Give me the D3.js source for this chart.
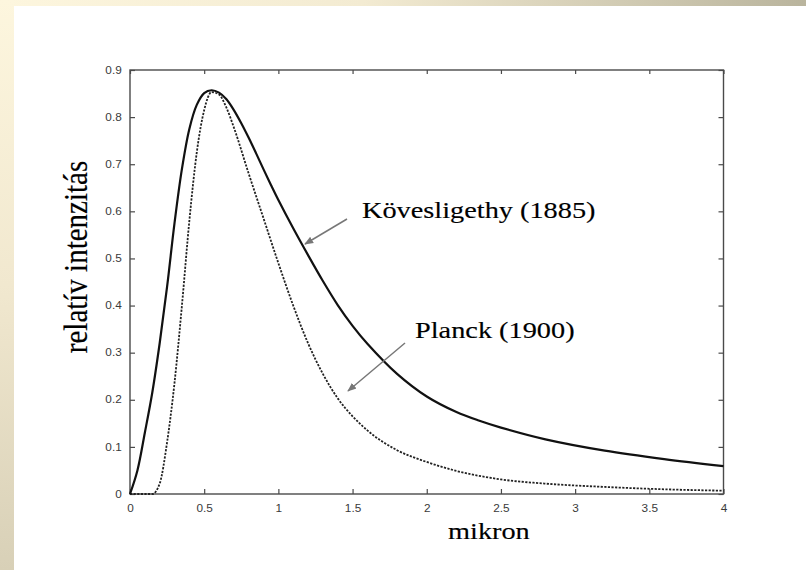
<!DOCTYPE html>
<html>
<head>
<meta charset="utf-8">
<script src="https://cdn.jsdelivr.net/npm/d3@7"></script>
<style>
  html, body { margin: 0; padding: 0; background: #fff; }
  svg { display: block; }
</style>
</head>
<body>
<svg id="chart" width="806" height="570"></svg>
<script>
// values (x in micron, y relative intensity)
const kovesX = [0, 0.05, 0.1, 0.15, 0.2, 0.25, 0.3, 0.35, 0.4, 0.45, 0.5, 0.55, 0.6, 0.65, 0.7, 0.75, 0.8, 0.85, 0.9, 0.95, 1.0, 1.1, 1.2, 1.3, 1.4, 1.5, 1.6, 1.8, 2.0, 2.2, 2.35, 2.5, 2.8, 3.2, 3.6, 4.0];
const kovesY = [0, 0.05, 0.13, 0.215, 0.32, 0.44, 0.575, 0.69, 0.775, 0.826, 0.851, 0.857, 0.852, 0.838, 0.815, 0.787, 0.756, 0.723, 0.689, 0.656, 0.624, 0.564, 0.507, 0.452, 0.401, 0.357, 0.319, 0.255, 0.207, 0.174, 0.156, 0.141, 0.116, 0.092, 0.074, 0.059];

const planckX = [0, 0.15, 0.2, 0.25, 0.3, 0.35, 0.4, 0.45, 0.5, 0.55, 0.6, 0.65, 0.7, 0.8, 0.9, 1.0, 1.1, 1.2, 1.3, 1.4, 1.5, 1.6, 1.8, 2.0, 2.2, 2.5, 2.8, 3.2, 3.6, 4.0];
const planckY = [0, 0, 0.022, 0.11, 0.236, 0.40, 0.58, 0.725, 0.815, 0.853, 0.848, 0.82, 0.778, 0.68, 0.585, 0.49, 0.400, 0.320, 0.255, 0.203, 0.165, 0.135, 0.093, 0.068, 0.049, 0.031, 0.022, 0.015, 0.010, 0.007];

const xTicks = [0, 0.5, 1, 1.5, 2, 2.5, 3, 3.5, 4];
const xTickLabels = ['0', '0.5', '1', '1.5', '2', '2.5', '3', '3.5', '4'];
const yTicks = [0, 0.1, 0.2, 0.3, 0.4, 0.5, 0.6, 0.7, 0.8, 0.9];
const yTickLabels = ['0', '0.1', '0.2', '0.3', '0.4', '0.5', '0.6', '0.7', '0.8', '0.9'];

const xLabel = 'mikron';
const yLabel = 'relatív intenzitás';
const kovesLabel = 'Kövesligethy (1885)';
const planckLabel = 'Planck (1900)';

const svg = d3.select('#chart');
const W = 806, H = 570;
const stretch = 1.18; // the picture looks stretched horizontally

// background: cream bands at top and left
const defs = svg.append('defs');
const gTop = defs.append('linearGradient').attr('id', 'gtop').attr('x1', 0).attr('x2', 1).attr('y1', 0).attr('y2', 0);
gTop.append('stop').attr('offset', '0%').attr('stop-color', '#fdf6de');
gTop.append('stop').attr('offset', '45%').attr('stop-color', '#f3ebd2');
gTop.append('stop').attr('offset', '100%').attr('stop-color', '#b9b49d');
const gLeft = defs.append('linearGradient').attr('id', 'gleft').attr('x1', 0).attr('x2', 0).attr('y1', 0).attr('y2', 1);
gLeft.append('stop').attr('offset', '0%').attr('stop-color', '#fdf6de');
gLeft.append('stop').attr('offset', '50%').attr('stop-color', '#f1e8cf');
gLeft.append('stop').attr('offset', '100%').attr('stop-color', '#d8d0b7');
defs.append('marker')
  .attr('id', 'arrow')
  .attr('viewBox', '0 0 10 10')
  .attr('refX', 9).attr('refY', 5)
  .attr('markerWidth', 6).attr('markerHeight', 6)
  .attr('markerUnits', 'strokeWidth')
  .attr('orient', 'auto')
  .append('path').attr('d', 'M0,1 L10,5 L0,9 z').attr('fill', '#777');

svg.append('rect').attr('x', 0).attr('y', 0).attr('width', W).attr('height', H).attr('fill', '#fff');
svg.append('rect').attr('x', 0).attr('y', 0).attr('width', W).attr('height', 6).attr('fill', 'url(#gtop)');
svg.append('rect').attr('x', 0).attr('y', 0).attr('width', 14).attr('height', H).attr('fill', 'url(#gleft)');

const pLeft = 130, pRight = 723.5, pTop = 70, pBottom = 494;
const x = d3.scaleLinear().domain([0, 4]).range([pLeft, pRight]);
const y = d3.scaleLinear().domain([0, 0.9]).range([pBottom, pTop]);

const axisColor = '#4a4a4a';
function styleAxis(g) {
  g.select('.domain').remove();
  g.selectAll('line').attr('stroke', axisColor).attr('stroke-width', 1.2);
  g.selectAll('text')
    .attr('fill', '#3a3a3a')
    .style('font-family', '"Liberation Sans", Arial, sans-serif')
    .style('font-size', '10px');
}

svg.append('g')
  .attr('transform', `translate(0,${pBottom})`)
  .call(d3.axisBottom(x).tickValues(xTicks).tickFormat((d, i) => xTickLabels[i]).tickSize(-5).tickPadding(11))
  .call(styleAxis)
  .selectAll('text').attr('transform', `scale(${stretch},1)`);

svg.append('g')
  .attr('transform', `translate(${pLeft},0)`)
  .call(d3.axisLeft(y).tickValues(yTicks).tickFormat((d, i) => yTickLabels[i]).tickSize(-5).tickPadding(7))
  .call(styleAxis)
  .selectAll('text').attr('transform', `scale(${stretch},1)`);

svg.append('g')
  .attr('transform', `translate(0,${pTop})`)
  .call(d3.axisTop(x).tickValues(xTicks).tickFormat('').tickSize(-4))
  .call(styleAxis);

svg.append('g')
  .attr('transform', `translate(${pRight},0)`)
  .call(d3.axisRight(y).tickValues(yTicks).tickFormat('').tickSize(-5))
  .call(styleAxis);

svg.append('rect')
  .attr('x', pLeft).attr('y', pTop)
  .attr('width', pRight - pLeft).attr('height', pBottom - pTop)
  .attr('fill', 'none').attr('stroke', axisColor).attr('stroke-width', 1.4);

// curves
const planckLine = d3.line().x((d) => x(d[0])).y((d) => y(d[1])).curve(d3.curveMonotoneX);
const kovesLine = d3.line().x((d) => x(d[0])).y((d) => y(d[1])).curve(d3.curveCatmullRom.alpha(0.5));
const planckPts = planckX.map((v, i) => [v, planckY[i]]);
const kovesPts = kovesX.map((v, i) => [v, kovesY[i]]);

svg.append('path')
  .attr('d', planckLine(planckPts))
  .attr('fill', 'none')
  .attr('stroke', '#222')
  .attr('stroke-width', 1.8)
  .attr('stroke-dasharray', '2.2,1.4');

svg.append('path')
  .attr('d', kovesLine(kovesPts))
  .attr('fill', 'none')
  .attr('stroke', '#111')
  .attr('stroke-width', 2.2);

// annotations
function serifText(tx, ty, str, size) {
  return svg.append('text')
    .attr('transform', `translate(${tx},${ty}) scale(${stretch},1)`)
    .attr('fill', '#000')
    .attr('stroke', '#000')
    .attr('stroke-width', 0.15)
    .style('font-family', '"Liberation Serif", "Times New Roman", serif')
    .style('font-size', size + 'px')
    .text(str);
}

serifText(362, 218, kovesLabel, 24);
serifText(415, 338, planckLabel, 24);

svg.append('line')
  .attr('x1', 347).attr('y1', 219).attr('x2', 305).attr('y2', 244)
  .attr('stroke', '#777').attr('stroke-width', 1.5).attr('marker-end', 'url(#arrow)');
svg.append('line')
  .attr('x1', 405).attr('y1', 343).attr('x2', 348).attr('y2', 391)
  .attr('stroke', '#777').attr('stroke-width', 1.5).attr('marker-end', 'url(#arrow)');

// axis titles
serifText(448, 539, xLabel, 24);

svg.append('text')
  .attr('transform', `translate(87,257) scale(${stretch},1) rotate(-90)`)
  .attr('text-anchor', 'middle')
  .attr('fill', '#000')
  .attr('stroke', '#000')
  .attr('stroke-width', 0.15)
  .style('font-family', '"Liberation Serif", "Times New Roman", serif')
  .style('font-size', '29px')
  .text(yLabel);
</script>
</body>
</html>
